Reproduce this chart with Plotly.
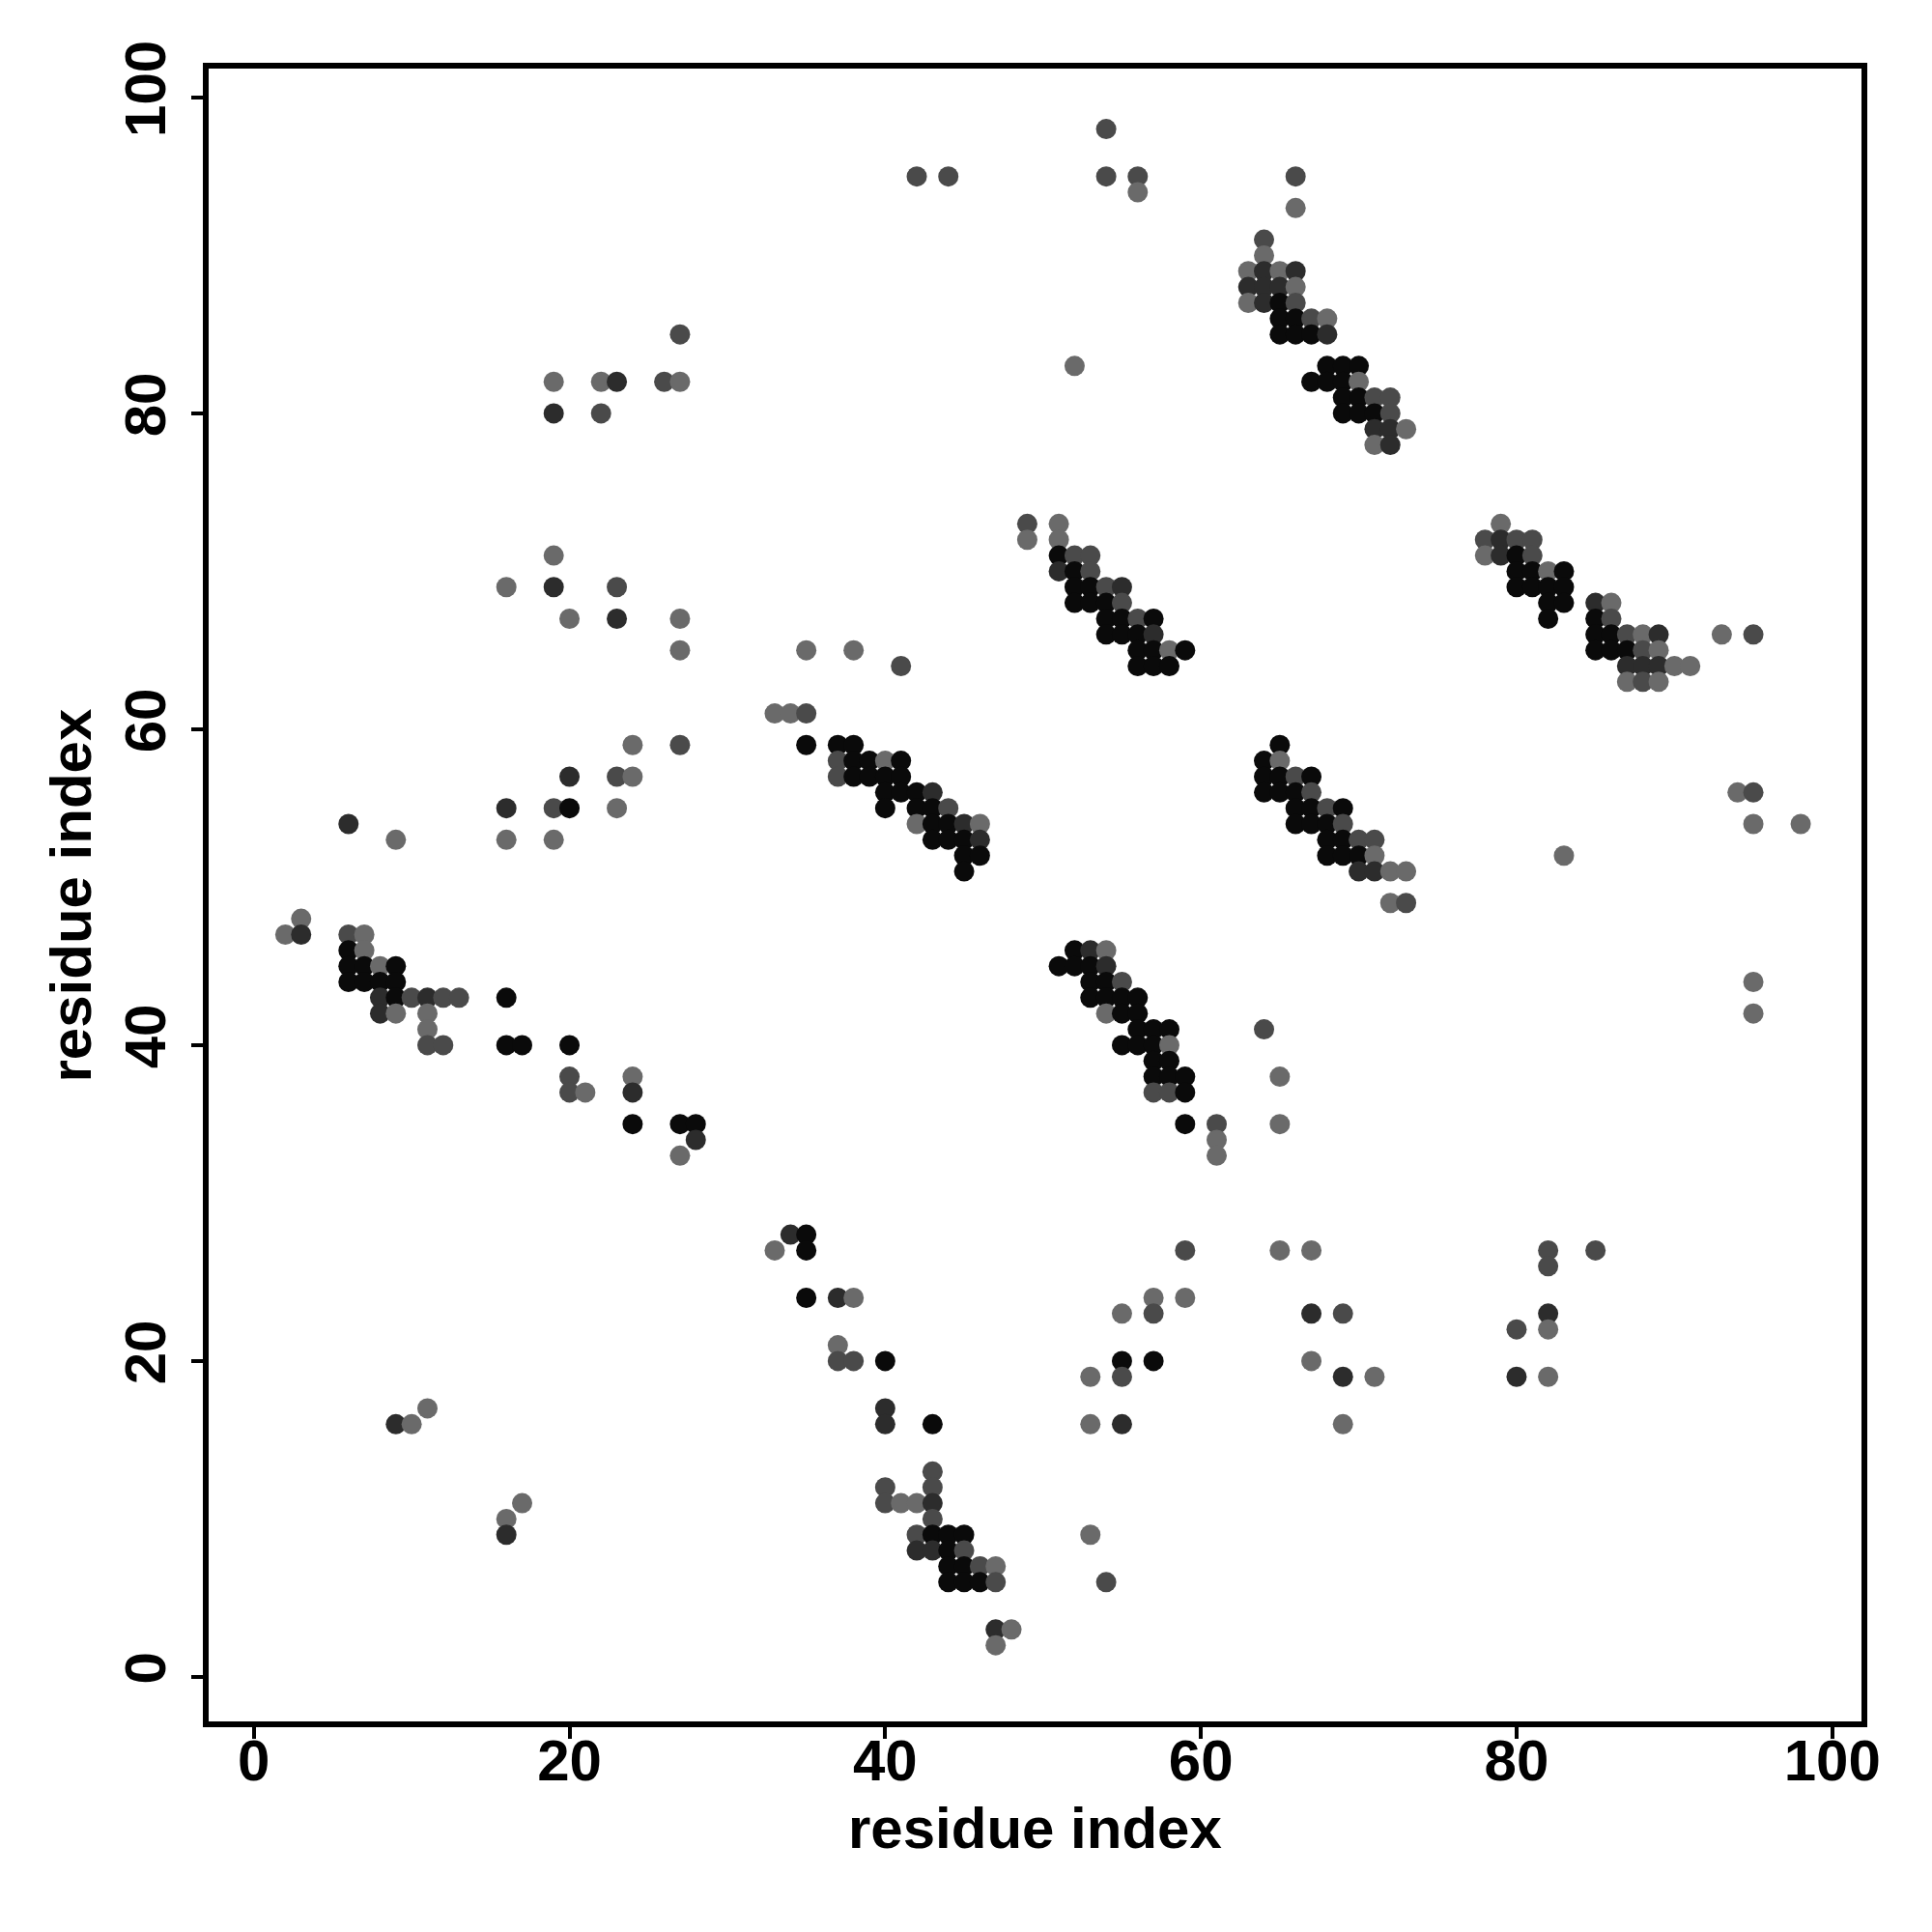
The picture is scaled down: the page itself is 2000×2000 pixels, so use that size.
import plotly.graph_objects as go

# Contact map: each row is one value of the y residue index,
# with the x residue indices present in that row and a shade level (0 = darkest ... 3 = lightest)
row_y = [98, 95, 94, 93, 91, 90, 89, 88, 87, 86, 85, 83, 82, 81, 80, 79, 78,
         73, 72, 71, 70, 69, 68, 67, 66, 65, 64, 63, 61, 59, 58, 57, 56, 55, 54, 53, 52, 51,
         49, 48, 47, 46, 45, 44, 43, 42, 41, 40, 39, 38, 37, 35, 34, 33,
         28, 27, 26, 24, 23, 22, 21, 20, 19, 17, 16, 13, 12, 11, 10, 9, 8, 7, 6, 3, 2]

row_x = [
    [54],
    [42, 44, 54, 56, 66],
    [56],
    [66],
    [64],
    [64],
    [63, 64, 65, 66],
    [63, 64, 65, 66],
    [63, 64, 65, 66],
    [65, 66, 67, 68],
    [27, 65, 66, 67, 68],
    [52, 68, 69, 70],
    [19, 22, 23, 26, 27, 67, 68, 69, 70],
    [69, 70, 71, 72],
    [19, 22, 69, 70, 71, 72],
    [71, 72, 73],
    [71, 72],
    [49, 51, 79],
    [49, 51, 78, 79, 80, 81],
    [19, 51, 52, 53, 78, 79, 80, 81],
    [51, 52, 53, 80, 81, 82, 83],
    [16, 19, 23, 52, 53, 54, 55, 80, 81, 82, 83],
    [52, 53, 54, 55, 82, 83, 85, 86],
    [20, 23, 27, 54, 55, 56, 57, 82, 85, 86],
    [54, 55, 56, 57, 85, 86, 87, 88, 89, 93, 95],
    [27, 35, 38, 56, 57, 58, 59, 85, 86, 87, 88, 89],
    [41, 56, 57, 58, 87, 88, 89, 90, 91],
    [87, 88, 89],
    [33, 34, 35],
    [24, 27, 35, 37, 38, 65],
    [37, 38, 39, 40, 41, 64, 65],
    [20, 23, 24, 37, 38, 39, 40, 41, 64, 65, 66, 67],
    [40, 41, 42, 43, 64, 65, 66, 67, 94, 95],
    [16, 19, 20, 23, 40, 42, 43, 44, 66, 67, 68, 69],
    [6, 42, 43, 44, 45, 46, 66, 67, 68, 69, 95, 98],
    [9, 16, 19, 43, 44, 45, 46, 68, 69, 70, 71],
    [45, 46, 68, 69, 70, 71, 83],
    [45, 70, 71, 72, 73],
    [72, 73],
    [3],
    [2, 3, 6, 7],
    [6, 7, 52, 53, 54],
    [6, 7, 8, 9, 51, 52, 53, 54],
    [6, 7, 8, 9, 53, 54, 55, 95],
    [8, 9, 10, 11, 12, 13, 16, 53, 54, 55, 56],
    [8, 9, 11, 54, 55, 56, 95],
    [11, 56, 57, 58, 64],
    [11, 12, 16, 17, 20, 55, 56, 57, 58],
    [57, 58],
    [20, 24, 57, 58, 59, 65],
    [20, 21, 24, 57, 58, 59],
    [24, 27, 28, 59, 61, 65],
    [28, 61],
    [27, 61],
    [34, 35],
    [33, 35, 59, 65, 67, 82, 85],
    [82],
    [35, 37, 38, 57, 59],
    [55, 57, 67, 69, 82],
    [80, 82],
    [37],
    [37, 38, 40, 55, 57, 67],
    [53, 55, 69, 71, 80, 82],
    [11, 40],
    [9, 10, 40, 43, 53, 55, 69],
    [43],
    [40, 43],
    [17, 40, 41, 42, 43],
    [16, 43],
    [16, 42, 43, 44, 45, 53],
    [42, 43, 44, 45],
    [44, 45, 46, 47],
    [44, 45, 46, 47, 54],
    [47, 48],
    [47],
]

row_level = [
    [2],
    [2, 2, 2, 2, 2],
    [3],
    [3],
    [2],
    [3],
    [3, 1, 3, 1],
    [1, 1, 1, 3],
    [3, 1, 0, 2],
    [0, 0, 2, 3],
    [2, 0, 0, 0, 1],
    [3, 0, 0, 0],
    [3, 3, 1, 2, 3, 0, 0, 0, 3],
    [0, 0, 2, 2],
    [1, 2, 0, 0, 0, 2],
    [1, 1, 3],
    [3, 1],
    [2, 3, 3],
    [3, 3, 2, 1, 2, 2],
    [3, 0, 2, 2, 3, 1, 0, 2],
    [1, 0, 2, 0, 0, 3, 0],
    [3, 1, 2, 0, 0, 2, 1, 0, 0, 0, 0],
    [0, 0, 0, 2, 0, 0, 1, 3],
    [3, 1, 3, 0, 0, 2, 0, 0, 0, 2],
    [0, 0, 0, 1, 0, 0, 2, 3, 1, 3, 2],
    [3, 3, 3, 0, 0, 3, 0, 0, 0, 0, 2, 3],
    [2, 0, 0, 0, 1, 1, 1, 3, 3],
    [3, 2, 3],
    [3, 3, 2],
    [3, 2, 0, 0, 0, 0],
    [2, 0, 0, 3, 0, 0, 3],
    [1, 2, 3, 2, 0, 0, 0, 0, 0, 0, 2, 0],
    [0, 0, 0, 1, 0, 0, 0, 2, 3, 2],
    [1, 2, 0, 3, 0, 0, 0, 2, 0, 0, 2, 0],
    [1, 3, 0, 0, 1, 3, 0, 0, 0, 2, 3, 3],
    [3, 3, 3, 0, 0, 0, 1, 0, 0, 2, 2],
    [0, 0, 0, 0, 0, 3, 3],
    [0, 1, 1, 3, 3],
    [3, 2],
    [3],
    [3, 1, 2, 3],
    [0, 3, 0, 1, 3],
    [0, 0, 3, 0, 0, 0, 0, 1],
    [0, 0, 0, 0, 0, 0, 2, 3],
    [1, 0, 2, 1, 2, 2, 0, 0, 0, 0, 0],
    [1, 3, 3, 3, 0, 0, 3],
    [3, 0, 0, 0, 2],
    [2, 2, 0, 0, 0, 0, 0, 0, 3],
    [0, 0],
    [2, 3, 0, 0, 0, 3],
    [2, 3, 1, 2, 2, 0],
    [0, 0, 0, 0, 2, 3],
    [1, 3],
    [3, 3],
    [1, 0],
    [3, 0, 2, 3, 3, 2, 2],
    [2],
    [0, 1, 3, 3, 3],
    [3, 2, 1, 2, 1],
    [2, 3],
    [3],
    [2, 2, 0, 0, 0, 3],
    [3, 2, 1, 3, 1, 3],
    [3, 1],
    [1, 3, 1, 0, 3, 1, 3],
    [2],
    [2, 2],
    [3, 2, 3, 3, 1],
    [3, 2],
    [1, 2, 0, 0, 0, 3],
    [1, 1, 0, 2],
    [0, 0, 2, 3],
    [0, 0, 0, 2, 2],
    [1, 3],
    [3],
]

shade_colors = ["#0a0a0a", "#2c2c2c", "#4a4a4a", "#6a6a6a"]
axis_ticks = [0, 20, 40, 60, 80, 100]
axis_title = "residue index"

xs, ys, cs = [], [], []
for yv, xr, lr in zip(row_y, row_x, row_level):
    for xv, lv in zip(xr, lr):
        xs.append(xv)
        ys.append(yv)
        cs.append(shade_colors[lv])

FONT = "Liberation Sans"

fig = go.Figure(
    go.Scatter(
        x=xs, y=ys, mode="markers",
        marker=dict(size=21, color=cs, line=dict(width=0), opacity=1),
        hoverinfo="x+y", showlegend=False,
    )
)

axis_common = dict(
    tickvals=axis_ticks,
    ticks="outside", ticklen=12, tickwidth=4, tickcolor="black",
    showline=True, linewidth=6, linecolor="black", mirror=True,
    showgrid=False, zeroline=False,
    tickfont=dict(family=FONT, size=60, color="black", weight="bold"),
)

fig.update_layout(
    width=2000, height=2000,
    margin=dict(l=208, r=81, t=63, b=226),
    paper_bgcolor="white", plot_bgcolor="white",
    xaxis=dict(range=[-2.86, 101.85], ticklabelstandoff=-29, **axis_common),
    yaxis=dict(range=[-2.82, 101.83], tickangle=-90, ticklabelstandoff=3, **axis_common),
    annotations=[
        dict(text=axis_title, xref="paper", yref="paper", x=0.5, y=-0.0643,
             xanchor="center", yanchor="middle", showarrow=False,
             font=dict(family=FONT, size=60, color="black", weight="bold")),
        dict(text=axis_title, xref="paper", yref="paper", x=-0.083, y=0.5,
             xanchor="center", yanchor="middle", showarrow=False, textangle=-90,
             font=dict(family=FONT, size=60, color="black", weight="bold")),
    ],
)

fig.write_html("out.html")
